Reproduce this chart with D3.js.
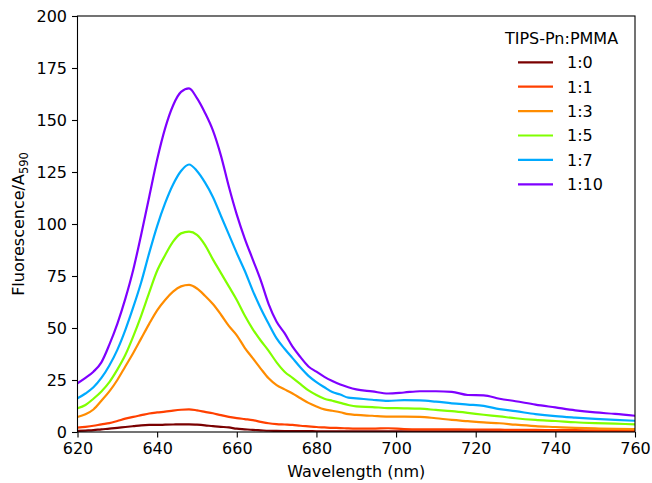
<!DOCTYPE html>
<html>
<head>
<meta charset="utf-8">
<script src="https://cdn.jsdelivr.net/npm/d3@7"></script>
<style>
  html, body { margin: 0; padding: 0; background: #fff; }
  svg { display: block; }
  text { font-family: "DejaVu Sans", sans-serif; fill: #000; }
</style>
</head>
<body>
<svg id="chart" width="652" height="483"></svg>
<script>
// Emission wavelengths (nm)
const wavelengths = [
  620, 622, 624, 626, 628, 630, 632, 634, 636, 638,
  640, 642, 644, 646, 648, 650, 652, 654, 656, 658,
  660, 662, 664, 666, 668, 670, 672, 674, 676, 678,
  680, 682, 684, 686, 688, 690, 694, 698, 702, 706,
  710, 714, 718, 722, 726, 730, 735, 740, 745, 750,
  755, 760
];

// Fluorescence normalised by absorbance at 590 nm, one array per blend ratio
const ratio1to0 = [
  0.5, 0.7, 0.9, 1.3, 1.6, 2.0, 2.4, 2.8, 3.2, 3.4,
  3.4, 3.5, 3.6, 3.7, 3.7, 3.5, 3.2, 2.8, 2.5, 2.2,
  1.6, 1.3, 1.0, 0.8, 0.6, 0.5, 0.45, 0.4, 0.4, 0.4,
  0.35, 0.35, 0.35, 0.3, 0.3, 0.3, 0.3, 0.3, 0.3, 0.3,
  0.3, 0.3, 0.3, 0.3, 0.3, 0.3, 0.3, 0.3, 0.3, 0.3,
  0.3, 0.3
];
const ratio1to1 = [
  2.1, 2.5, 3.0, 3.7, 4.3, 5.3, 6.4, 7.3, 8.1, 8.9,
  9.4, 9.8, 10.3, 10.7, 10.9, 10.4, 9.7, 9.0, 8.1, 7.3,
  6.7, 6.2, 5.7, 4.9, 4.2, 3.8, 3.6, 3.4, 3.0, 2.7,
  2.4, 2.2, 2.0, 1.9, 1.7, 1.6, 1.6, 1.8, 1.4, 1.3,
  1.3, 1.3, 1.2, 1.2, 1.1, 1.0, 1.0, 0.9, 0.9, 0.8,
  0.8, 0.8
];
const ratio1to3 = [
  7.2, 8.5, 10.8, 15.0, 19.5, 25.0, 31.5, 38.0, 45.0, 52.0,
  58.5, 63.5, 67.5, 70.0, 70.7, 69.0, 65.5, 61.5, 56.5, 51.0,
  46.5, 40.5, 35.5, 30.5, 25.8, 22.5, 20.5, 18.5, 16.2, 14.0,
  12.3, 10.9, 10.2, 9.5, 8.6, 8.2, 7.8, 7.4, 7.4, 7.3,
  6.6, 5.8, 5.2, 4.6, 4.2, 3.5, 2.8, 2.4, 2.0, 1.7,
  1.5, 1.4
];
const ratio1to5 = [
  11.4, 13.0, 16.0, 19.5, 24.0, 30.0, 37.0, 46.0, 56.0, 67.0,
  77.5, 85.0, 91.5, 95.5, 96.3, 94.8, 90.0, 83.0, 76.5, 70.0,
  63.5, 56.0, 49.5, 44.0, 39.0, 33.5, 29.0, 26.0, 23.0, 20.0,
  17.8, 16.0, 15.0, 14.0, 13.0, 12.3, 12.0, 11.5, 11.4, 11.2,
  10.6, 10.0, 9.2, 8.3, 7.5, 6.6, 5.8, 5.3, 4.7, 4.3,
  4.0, 3.7
];
const ratio1to7 = [
  16.2, 18.5, 21.5, 26.0, 32.0, 39.5, 49.0, 60.0, 72.0, 86.0,
  99.0, 110.0, 119.0, 125.5, 128.6, 125.5, 120.0, 113.0, 104.0, 95.0,
  86.0, 77.5, 68.0, 59.5, 52.0, 45.0, 40.0, 35.5, 31.0, 27.0,
  24.0, 21.5, 19.2, 18.0, 16.5, 16.2, 15.5, 15.0, 15.3, 15.2,
  14.6, 13.8, 13.2, 12.6, 11.0, 10.0, 8.6, 7.6, 6.9, 6.3,
  5.8, 5.4
];
const ratio1to10 = [
  23.4, 26.0, 29.0, 33.5, 42.0, 52.0, 64.0, 78.0, 95.0, 113.0,
  131.0, 146.0, 157.0, 163.5, 165.2, 160.5, 153.5, 145.0, 133.0, 118.0,
  104.5, 93.0, 83.0, 73.0, 61.5, 53.0, 47.5, 41.0, 36.0, 31.5,
  29.0, 26.5, 24.5, 22.8, 21.5, 20.5, 19.5, 18.5, 19.0, 19.6,
  19.6, 19.3, 17.8, 17.6, 16.0, 14.8, 13.2, 11.8, 10.4, 9.4,
  8.7, 7.8
];

const ratioLabels = ["1:0", "1:1", "1:3", "1:5", "1:7", "1:10"];
const ratioColors = ["#7a0000", "#ff4000", "#ff8c00", "#80ff00", "#00aaff", "#7f00ff"];
const xTicks = [620, 640, 660, 680, 700, 720, 740, 760];
const yTicks = [0, 25, 50, 75, 100, 125, 150, 175, 200];

const seriesValues = [ratio1to0, ratio1to1, ratio1to3, ratio1to5, ratio1to7, ratio1to10];
const series = ratioLabels.map((label, i) => ({
  label,
  color: ratioColors[i],
  points: wavelengths.map((w, j) => [w, seriesValues[i][j]])
}));

const svg = d3.select("#chart");
const plot = { left: 77.5, right: 635, top: 16, bottom: 432 };

const x = d3.scaleLinear().domain([620, 760]).range([plot.left, plot.right]);
const y = d3.scaleLinear().domain([0, 200]).range([plot.bottom, plot.top]);

// Spectra
const line = d3.line()
  .x(d => x(d[0]))
  .y(d => y(d[1]))
  .curve(d3.curveMonotoneX);

svg.append("clipPath").attr("id", "plot-clip")
  .append("rect")
  .attr("x", plot.left).attr("y", plot.top)
  .attr("width", plot.right - plot.left).attr("height", plot.bottom - plot.top);

svg.append("g").attr("clip-path", "url(#plot-clip)")
  .selectAll("path")
  .data(series)
  .join("path")
  .attr("fill", "none")
  .attr("stroke", d => d.color)
  .attr("stroke-width", 2.2)
  .attr("stroke-linejoin", "round")
  .attr("stroke-linecap", "round")
  .attr("d", d => line(d.points));

// Axes
const xAxis = svg.append("g")
  .attr("transform", `translate(0,${plot.bottom})`)
  .call(d3.axisBottom(x).tickValues(xTicks).tickSize(5.5).tickPadding(5).tickFormat(d3.format("d")));
const yAxis = svg.append("g")
  .attr("transform", `translate(${plot.left},0)`)
  .call(d3.axisLeft(y).tickValues(yTicks).tickSize(5.5).tickPadding(5).tickFormat(d3.format("d")));

[xAxis, yAxis].forEach(g => {
  g.select(".domain").remove();
  g.selectAll(".tick line").attr("stroke", "#000").attr("stroke-width", 1.1);
  g.selectAll(".tick text")
    .style("font-family", "'DejaVu Sans', sans-serif")
    .style("font-size", "16px")
    .attr("fill", "#000");
});

// Frame
svg.append("rect")
  .attr("x", plot.left).attr("y", plot.top)
  .attr("width", plot.right - plot.left).attr("height", plot.bottom - plot.top)
  .attr("fill", "none").attr("stroke", "#000").attr("stroke-width", 1.1);

// Axis titles
svg.append("text")
  .attr("x", (plot.left + plot.right) / 2)
  .attr("y", 477)
  .attr("text-anchor", "middle")
  .style("font-size", "16px")
  .text("Wavelength (nm)");

const yTitle = svg.append("text")
  .attr("transform", `translate(24,${(plot.top + plot.bottom) / 2}) rotate(-90)`)
  .attr("text-anchor", "middle")
  .style("font-size", "16px");
yTitle.append("tspan").text("Fluorescence/A");
yTitle.append("tspan").attr("dy", 3.5).style("font-size", "11.5px").text("590");

// Legend
const legend = svg.append("g");
legend.append("text")
  .attr("x", 561.5).attr("y", 44)
  .attr("text-anchor", "middle")
  .style("font-size", "16px")
  .text("TIPS-Pn:PMMA");

const rows = legend.selectAll("g.row")
  .data(series)
  .join("g")
  .attr("class", "row")
  .attr("transform", (d, i) => `translate(0,${62.3 + i * 24.4})`);
rows.append("line")
  .attr("x1", 518).attr("x2", 553)
  .attr("stroke", d => d.color)
  .attr("stroke-width", 2.2);
rows.append("text")
  .attr("x", 567).attr("y", 5.8)
  .style("font-size", "16px")
  .text(d => d.label);
</script>
</body>
</html>
